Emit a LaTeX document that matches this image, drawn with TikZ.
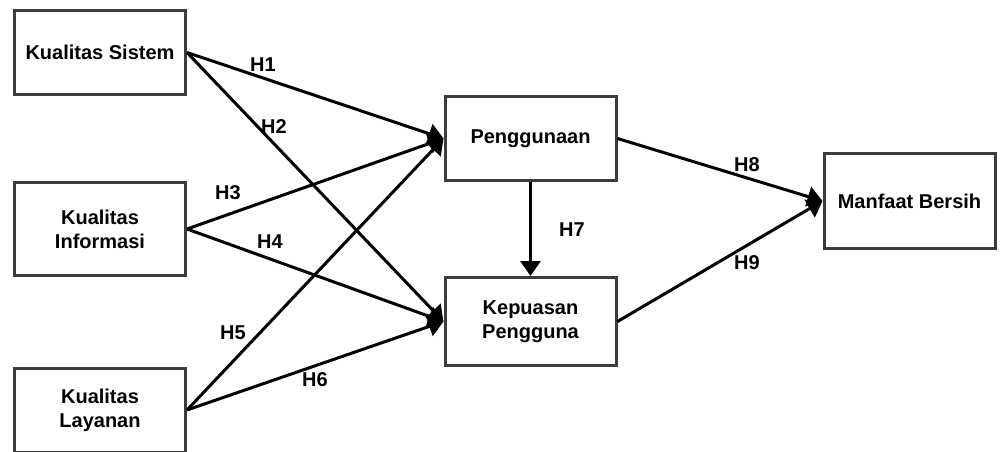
\documentclass[tikz,border=0pt]{standalone}
\usepackage{fontspec}
\setmainfont{Liberation Sans}
\usetikzlibrary{arrows.meta}
\definecolor{boxline}{HTML}{3C3C3C}
\tikzset{
  varbox/.style={draw=boxline,line width=3pt,fill=white,minimum width=171pt,
    minimum height=84pt,align=center,inner sep=0pt,
    font=\fontsize{20}{24}\selectfont\bfseries},
  link/.style={line width=3pt,-{Triangle[length=15pt,width=20pt]}},
  hyp/.style={font=\fontsize{20}{24}\selectfont\bfseries,inner sep=0pt}
}
\begin{document}
\begin{tikzpicture}[x=1pt,y=-1pt]
  \useasboundingbox (0,0) rectangle (1003,452);
  % variables
  \node[varbox] (sys) at (100,52.5) {Kualitas Sistem};
  \node[varbox,minimum height=93pt] (inf) at (100,229) {Kualitas\\Informasi};
  \node[varbox] (svc) at (100,410) {Kualitas\\Layanan};
  \node[varbox] (use) at (530.5,138.5) {Penggunaan};
  \node[varbox,minimum height=88pt] (sat) at (530.5,321.5) {Kepuasan\\Pengguna};
  \node[varbox,minimum height=95pt] (net) at (909.5,201) {Manfaat Bersih};
  % paths between them
  \foreach \a/\b in {sys/use,sys/sat,inf/use,inf/sat,svc/use,svc/sat,use/net,sat/net}
    {\draw[link] (\a.east) -- (\b.west);}
  \draw[link] (use.south) -- (sat.north);
  % hypothesis labels
  \foreach \h/\x/\y in {1/263/65,2/274/127,3/228/193,4/270/242,5/233/333,
                        6/315/380,7/572/230,8/747/165,9/747/263}
    {\node[hyp] (lblH\h) at (\x,\y) {H\h};}
\end{tikzpicture}
\end{document}
